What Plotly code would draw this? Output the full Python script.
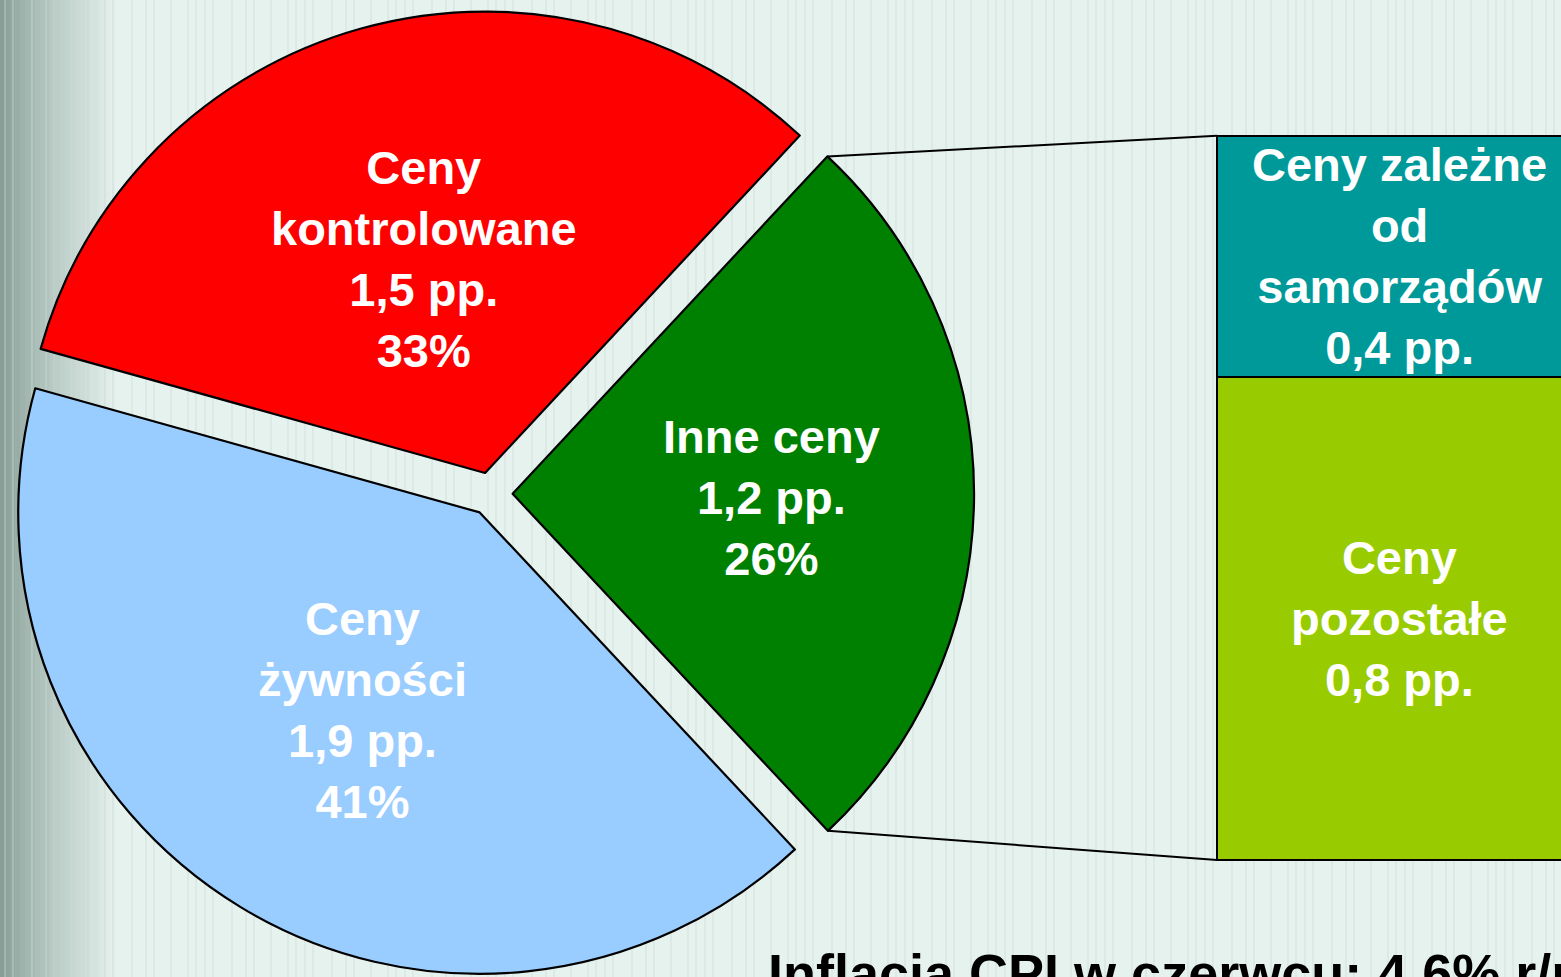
import math
import plotly.graph_objects as go

# --- data ---
pie_labels = ["Inne ceny", "Ceny żywności", "Ceny kontrolowane"]
pie_values = [1.2, 1.9, 1.5]            # pp.
pie_pct = ["26%", "41%", "33%"]
pie_colors = ["#008000", "#99CCFF", "#FF0000"]
pie_text = ["Inne ceny", "Ceny<br>żywności", "Ceny<br>kontrolowane"]

bar_labels = ["Ceny pozostałe", "Ceny zależne od samorządów"]
bar_values = [0.8, 0.4]                 # pp., split of "Inne ceny"
bar_colors = ["#99CC00", "#009999"]
bar_text = ["Ceny<br>pozostałe", "Ceny zależne<br>od<br>samorządów"]

footer = "Inflacja CPI w czerwcu: 4,6% r/r"

# --- layout constants ---
W, H = 1561, 977
PULL = 0.047
ROTATION = 43
PIE_DOM_X = [0, 0.629]
PIE_DOM_Y = [0, 0.989]
XR = [-3.825, 0.44]
YR = [-0.194, 1.425]
FONT = "Arial, Liberation Sans, sans-serif"
LBL_SIZE = 47
LBL_R = [0.56, 0.49, 0.49]   # radial position of labels (fraction of r)

fmt = lambda v: f"{v:.1f}".replace(".", ",") + " pp."

# pie geometry (mirrors plotly's scalePies)
box_w = W * (PIE_DOM_X[1] - PIE_DOM_X[0])
box_h = H * (PIE_DOM_Y[1] - PIE_DOM_Y[0])
r = min(box_w, box_h) / (2 * (1 + PULL))
cx = W * (PIE_DOM_X[0] + PIE_DOM_X[1]) / 2
cy = H * (1 - PIE_DOM_Y[0]) - box_h / 2
total = sum(pie_values)

slices = []
a = 90 - ROTATION
for v in pie_values:
    span = v / total * 360
    mid = a - span / 2
    vx = cx + PULL * r * math.cos(math.radians(mid))
    vy = cy - PULL * r * math.sin(math.radians(mid))
    slices.append(dict(start=a, end=a - span, mid=mid, vx=vx, vy=vy))
    a -= span

def px_to_data(px, py):
    return (XR[0] + px / W * (XR[1] - XR[0]),
            YR[0] + (1 - py / H) * (YR[1] - YR[0]))

fig = go.Figure()

fig.add_trace(go.Pie(
    labels=pie_labels, values=pie_values, sort=False, direction="clockwise",
    rotation=ROTATION, pull=[PULL] * 3, textinfo="none", hoverinfo="label+value",
    marker=dict(colors=pie_colors, line=dict(color="black", width=2.2)),
    domain=dict(x=PIE_DOM_X, y=PIE_DOM_Y), showlegend=False,
))

# stacked bar ("pie of bar")
for lab, v, c in zip(bar_labels, bar_values, bar_colors):
    fig.add_trace(go.Bar(
        x=[0], y=[v], width=1, name=lab, marker=dict(color=c, line=dict(color="black", width=2)),
        showlegend=False,
    ))

# connector lines from "Inne ceny" slice to bar
g = slices[0]
for ang, ybar in [(g["start"], sum(bar_values)), (g["end"], 0)]:
    ex = g["vx"] + r * math.cos(math.radians(ang))
    ey = g["vy"] - r * math.sin(math.radians(ang))
    dx, dy = px_to_data(ex, ey)
    fig.add_trace(go.Scatter(
        x=[dx, -0.5], y=[dy, ybar], mode="lines", line=dict(color="black", width=2),
        showlegend=False, hoverinfo="skip", cliponaxis=False,
    ))

# pie labels
for s, t, v, p, f in zip(slices, pie_text, pie_values, pie_pct, LBL_R):
    lx = s["vx"] + f * r * math.cos(math.radians(s["mid"]))
    ly = s["vy"] - f * r * math.sin(math.radians(s["mid"])) + 4
    fig.add_annotation(
        x=lx / W, y=1 - ly / H, xref="paper", yref="paper", showarrow=False,
        xanchor="center", yanchor="middle",
        text=f"<b>{t}<br>{fmt(v)}<br>{p}</b>",
        font=dict(family=FONT, size=LBL_SIZE, color="white"),
    )

# bar labels
base = 0
for t, v in zip(bar_text, bar_values):
    fig.add_annotation(
        x=0, y=base + v / 2, xref="x", yref="y", showarrow=False,
        xanchor="center", yanchor="middle",
        text=f"<b>{t}<br>{fmt(v)}</b>",
        font=dict(family=FONT, size=LBL_SIZE, color="white"),
    )
    base += v

fig.add_annotation(
    x=766 / W, y=1 - 941 / H, xref="paper", yref="paper", xanchor="left", yanchor="top",
    showarrow=False, text=f"<b>{footer}</b>",
    font=dict(family=FONT, size=54, color="black"),
)

# background: left gradient + faint vertical stripes
shapes = []
n = 24
for i in range(n):
    t = i / (n - 1)
    col = "rgb({},{},{})".format(int(136 + (230 - 136) * t ** 0.8),
                                 int(158 + (242 - 158) * t ** 0.8),
                                 int(151 + (238 - 151) * t ** 0.8))
    shapes.append(dict(type="rect", xref="paper", yref="paper", layer="below",
                       x0=i * 5 / W, x1=(i + 1) * 5 / W, y0=0, y1=1,
                       fillcolor=col, line=dict(width=0)))
offs = [0, 8, 27, 41, 49, 66, 83, 91]
for k in range(0, W, 100):
    for o in offs:
        xp = (k + o + 5) / W
        shapes.append(dict(type="line", xref="paper", yref="paper", layer="below",
                           x0=xp, x1=xp, y0=0, y1=1,
                           line=dict(color="rgba(200,218,212,0.35)", width=2)))

fig.update_layout(
    width=W, height=H, margin=dict(l=0, r=0, t=0, b=0),
    paper_bgcolor="#E6F2EE", plot_bgcolor="rgba(0,0,0,0)",
    barmode="stack", shapes=shapes,
    xaxis=dict(range=XR, visible=False, domain=[0, 1], fixedrange=True),
    yaxis=dict(range=YR, visible=False, domain=[0, 1], fixedrange=True),
)

fig.write_html("out.html", config={"displayModeBar": False},
               post_script="document.body.style.margin='0';")
